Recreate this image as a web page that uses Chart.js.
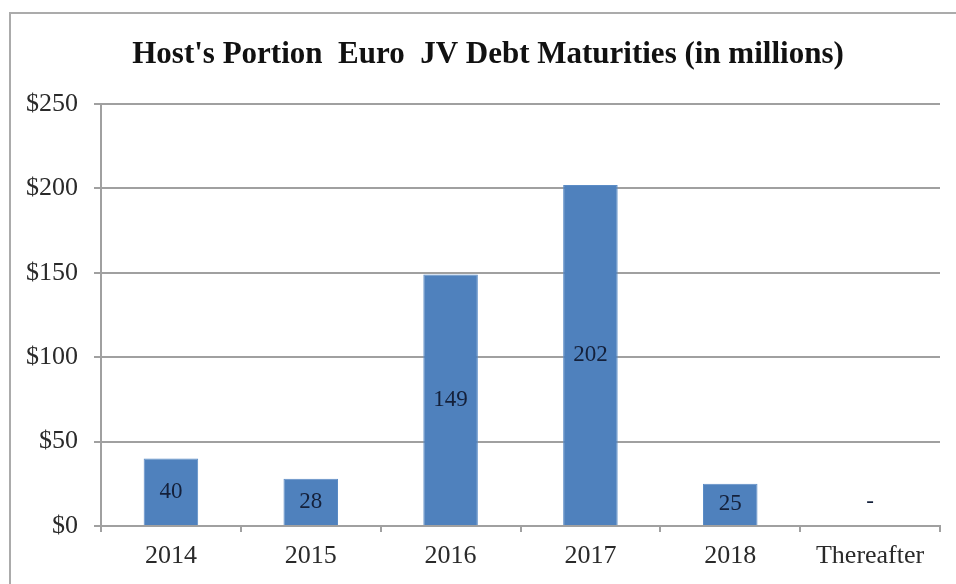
<!DOCTYPE html>
<html>
<head>
<meta charset="utf-8">
<script src="https://cdn.jsdelivr.net/npm/chart.js@4"></script>
<style>
    html, body { margin: 0; padding: 0; background: #fff; }
    #wrap { position: relative; width: 956px; height: 584px; overflow: hidden; }
    #frame { position: absolute; left: 9px; top: 12px; width: 1000px; height: 700px; border: 2px solid #ababab; }
    canvas { position: absolute; left: 0; top: 0; }
</style>
</head>
<body>
<div id="wrap">
    <div id="frame"></div>
    <canvas id="chart" width="956" height="584"></canvas>
</div>
<script>
const categories = ['2014', '2015', '2016', '2017', '2018', 'Thereafter'];
const maturities = [40, 28, 149, 202, 25, 0];
const valueLabels = ['40', '28', '149', '202', '25', '-'];
const yTicks = [0, 50, 100, 150, 200, 250];

const serif = "'Liberation Serif', 'Times New Roman', serif";

// title drawn by hand so it can sit a bit right of the canvas centre, like the original
const titlePlugin = {
    id: 'titleText',
    afterDraw(chart) {
        const ctx = chart.ctx;
        ctx.save();
        ctx.font = 'bold 31px ' + serif;
        ctx.fillStyle = '#111';
        ctx.textAlign = 'center';
        ctx.textBaseline = 'alphabetic';
        ctx.fillText("Host's Portion  Euro  JV Debt Maturities (in millions)", 488, 63);
        ctx.restore();
    }
};

// value labels in the middle of each bar, "-" floats above an empty one
const labelPlugin = {
    id: 'barLabels',
    afterDatasetsDraw(chart) {
        const ctx = chart.ctx;
        const meta = chart.getDatasetMeta(0);
        ctx.save();
        ctx.font = '23px ' + serif;
        ctx.fillStyle = '#14203a';
        ctx.textAlign = 'center';
        ctx.textBaseline = 'middle';
        meta.data.forEach((bar, i) => {
            let y = (bar.y + bar.base) / 2;
            if (maturities[i] === 0) y = bar.base - 24;
            ctx.fillText(valueLabels[i], bar.x, y);
        });
        ctx.restore();
    }
};

new Chart(document.getElementById('chart'), {
    type: 'bar',
    data: {
        labels: categories,
        datasets: [{
            data: maturities,
            backgroundColor: '#4f81bd',
            borderColor: '#5b8cc6',
            borderWidth: 1,
            barPercentage: 0.39,
            categoryPercentage: 1
        }]
    },
    options: {
        responsive: false,
        animation: false,
        layout: { padding: { top: 104, right: 16, left: 0, bottom: 0 } },
        plugins: {
            legend: { display: false },
            title: { display: false },
            tooltip: { enabled: false }
        },
        scales: {
            x: {
                afterFit: scale => { scale.height = 58; },
                grid: {
                    drawOnChartArea: false,
                    tickLength: 6,
                    color: '#a0a0a0',
                    lineWidth: 2
                },
                border: { color: '#a0a0a0', width: 2 },
                ticks: {
                    color: '#2a2a2a',
                    padding: 9,
                    font: { family: serif, size: 26 }
                }
            },
            y: {
                min: 0,
                max: 250,
                afterFit: scale => { scale.width = 101; },
                afterBuildTicks: scale => { scale.ticks = yTicks.map(v => ({ value: v })); },
                grid: {
                    color: '#a0a0a0',
                    lineWidth: 2,
                    tickLength: 7
                },
                border: { color: '#a0a0a0', width: 2 },
                ticks: {
                    color: '#2a2a2a',
                    padding: 16,
                    font: { family: serif, size: 26 },
                    callback: v => '$' + v
                }
            }
        }
    },
    plugins: [titlePlugin, labelPlugin]
});
</script>
</body>
</html>
